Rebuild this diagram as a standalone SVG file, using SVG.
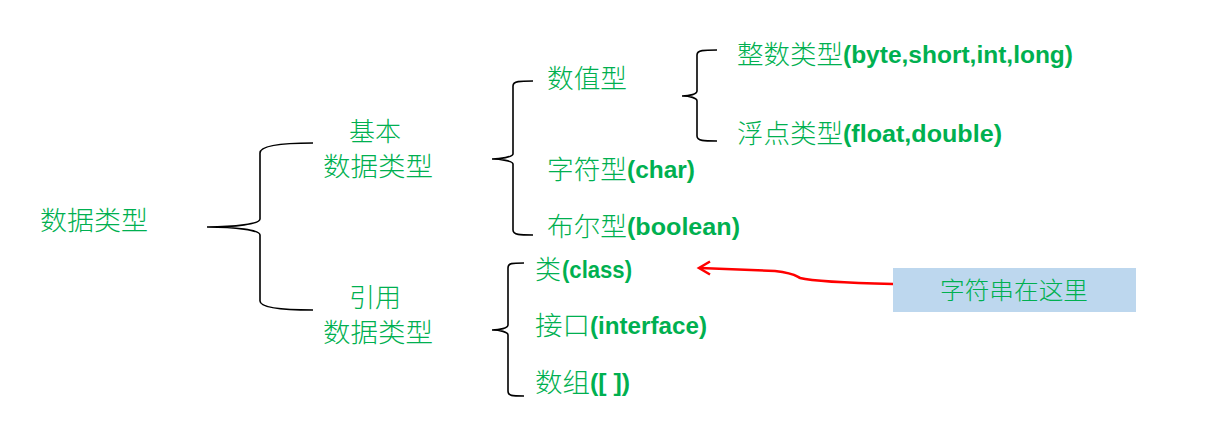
<svg xmlns="http://www.w3.org/2000/svg" width="1224" height="424" viewBox="0 0 1224 424">
<style>
.zh{font-family:"Noto Sans CJK SC","Noto Sans CJK JP",sans-serif;font-size:26px;fill:#00B050;font-weight:300}
.en{font-family:"Liberation Sans",Arial,sans-serif;font-size:23px;font-weight:bold;fill:#00B050}
.brace{fill:none;stroke:#000;stroke-width:1.6}
</style>
<rect width="1224" height="424" fill="#fff"/>
<g id="connectors">
<path class="brace" d="M313,143 C285,143 260,145 260,153 L260,219 C260,224 235,227 207,227 C235,227 260,230 260,235 L260,301 C260,308 285,310 313,310"/>
<path class="brace" d="M533,81 C520,81 513,81 513,86 L513,154 C513,157 500,159 492,159 C500,159 513,161 513,164 L513,230 C513,235 520,235 533,235"/>
<path class="brace" d="M717,50 C704,50 697,50 697,55 L697,91 C697,94 690,96 682,96 C690,96 697,98 697,101 L697,136 C697,141 704,141 717,141"/>
<path class="brace" d="M524,263 C512,263 508,263 508,268 L508,325 C508,328 500,330 492,330 C500,330 508,332 508,335 L508,391 C508,396 512,396 524,396"/>
<path d="M893,284 C850,283 812,281 800,278 C796,276 794,273 775,271 L700,268" fill="none" stroke="#FF0000" stroke-width="2.5"/>
<path d="M710,261.5 L699,268 L710,274.5" fill="none" stroke="#FF0000" stroke-width="2.5"/>
</g>
<g id="root"><text class="zh" x="40" y="230" textLength="108" lengthAdjust="spacingAndGlyphs">数据类型</text></g>
<g id="basic"><text class="zh" x="349" y="141">基本</text><text class="zh" x="323" y="176" textLength="110" lengthAdjust="spacingAndGlyphs">数据类型</text></g>
<g id="ref"><text class="zh" x="349" y="307">引用</text><text class="zh" x="323" y="342" textLength="110" lengthAdjust="spacingAndGlyphs">数据类型</text></g>
<g id="numeric"><text class="zh" x="547" y="88" textLength="80" lengthAdjust="spacingAndGlyphs">数值型</text></g>
<g id="int"><text class="zh" x="737" y="64" textLength="106" lengthAdjust="spacingAndGlyphs">整数类型</text><text class="en" x="843" y="63" textLength="230" lengthAdjust="spacingAndGlyphs">(byte,short,int,long)</text></g>
<g id="float"><text class="zh" x="737" y="143" textLength="106" lengthAdjust="spacingAndGlyphs">浮点类型</text><text class="en" x="843" y="142" textLength="159" lengthAdjust="spacingAndGlyphs">(float,double)</text></g>
<g id="char"><text class="zh" x="547" y="179" textLength="80" lengthAdjust="spacingAndGlyphs">字符型</text><text class="en" x="627" y="178" textLength="68" lengthAdjust="spacingAndGlyphs">(char)</text></g>
<g id="boolean"><text class="zh" x="547" y="236" textLength="80" lengthAdjust="spacingAndGlyphs">布尔型</text><text class="en" x="627" y="235" textLength="113" lengthAdjust="spacingAndGlyphs">(boolean)</text></g>
<g id="class"><text class="zh" x="535" y="279">类</text><text class="en" x="562" y="278" textLength="70" lengthAdjust="spacingAndGlyphs">(class)</text></g>
<g id="interface"><text class="zh" x="535" y="335" textLength="55" lengthAdjust="spacingAndGlyphs">接口</text><text class="en" x="590" y="334" textLength="117" lengthAdjust="spacingAndGlyphs">(interface)</text></g>
<g id="array"><text class="zh" x="535" y="392" textLength="55" lengthAdjust="spacingAndGlyphs">数组</text><text class="en" x="590" y="391" textLength="40" lengthAdjust="spacingAndGlyphs">([ ])</text></g>
<g id="note"><rect x="893" y="268" width="243" height="44" fill="#BDD7EE"/><text class="zh" x="1014" y="299" text-anchor="middle" style="font-size:24px" textLength="148" lengthAdjust="spacingAndGlyphs">字符串在这里</text></g>
</svg>
